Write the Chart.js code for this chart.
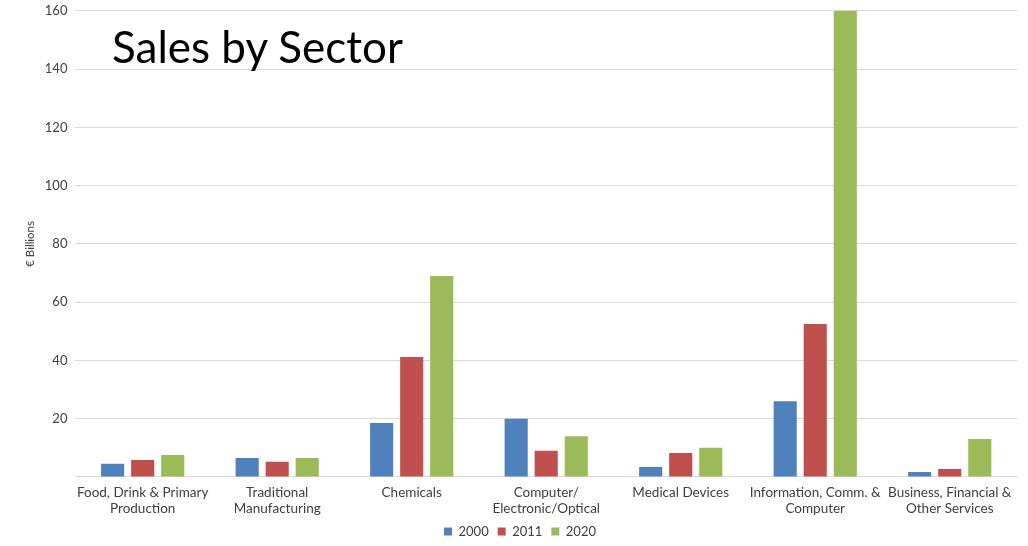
<!DOCTYPE html>
<html>
<head>
<meta charset="utf-8">
<script src="https://cdn.jsdelivr.net/npm/chart.js@4"></script>
<style>
  html, body { margin: 0; padding: 0; background: #fff; overflow: hidden; }
  #wrap { position: relative; width: 1028px; height: 546px; overflow: hidden; }
  #bars { position: absolute; left: 0; top: -5px; }
  #title {
    position: absolute; left: 112px; top: 20px;
    font-family: Lato, "Open Sans", sans-serif; font-size: 44px; color: #000;
  }
</style>
</head>
<body>
<div id="wrap">
  <canvas id="bars" width="1028" height="553"></canvas>
  <div id="title">Sales by Sector</div>
</div>
<script>
// sectors along the x axis
var sectors = [
    ['Food, Drink & Primary', 'Production'],
    ['Traditional', 'Manufacturing'],
    'Chemicals',
    ['Computer/', 'Electronic/Optical'],
    'Medical Devices',
    ['Information, Comm. &', 'Computer'],
    ['Business, Financial &', 'Other Services']
];
var years = ['2000', '2011', '2020'];
// € billions
var sales2000 = [4.5, 6.5, 18.5, 20, 3.4, 26, 1.7];
var sales2011 = [5.8, 5.2, 41.2, 9, 8.2, 52.5, 2.7];
var sales2020 = [7.5, 6.5, 69, 14, 10, 160, 13];
var yTicks = [0, 20, 40, 60, 80, 100, 120, 140, 160];

var colors = ['#4f81bd', '#c0504d', '#9bbb59'];
var seriesValues = [sales2000, sales2011, sales2020];
var fontFamily = 'Lato, "Open Sans", sans-serif';

var datasets = years.map(function(year, i) {
    return {
        label: year,
        data: seriesValues[i],
        backgroundColor: colors[i],
        borderWidth: 0,
        categoryPercentage: 0.67,
        barPercentage: 0.77
    };
});

var ctx = document.getElementById('bars');
var chart = new Chart(ctx.getContext('2d'), {
    type: 'bar',
    data: {
        labels: sectors,
        datasets: datasets
    },
    options: {
        responsive: false,
        animation: false,
        layout: { padding: { top: 0, right: 11, left: 23, bottom: 0 } },
        scales: {
            x: {
                grid: { display: false },
                border: { color: '#d9d9d9', width: 1 },
                ticks: {
                    color: '#404040',
                    font: { family: fontFamily, size: 13.5, lineHeight: 1.15 },
                    maxRotation: 0,
                    autoSkip: false,
                    padding: 0
                }
            },
            y: {
                min: 0,
                max: 160,
                afterBuildTicks: function(axis) {
                    axis.ticks = yTicks.map(function(v) { return { value: v }; });
                },
                grid: { color: '#d9d9d9', drawTicks: false },
                border: { display: false },
                ticks: {
                    color: '#404040',
                    font: { family: fontFamily, size: 13 },
                    padding: 8,
                    callback: function(v) { return v === 0 ? '' : v; }
                },
                title: {
                    display: true,
                    text: '€ Billions',
                    color: '#404040',
                    font: { family: fontFamily, size: 11.5 },
                    padding: { top: 0, bottom: 0 }
                }
            }
        },
        plugins: {
            legend: {
                position: 'bottom',
                labels: {
                    boxWidth: 8,
                    boxHeight: 8,
                    color: '#404040',
                    font: { family: fontFamily, size: 13 },
                    padding: 9
                }
            },
            tooltip: { enabled: false }
        }
    }
});
</script>
</body>
</html>
